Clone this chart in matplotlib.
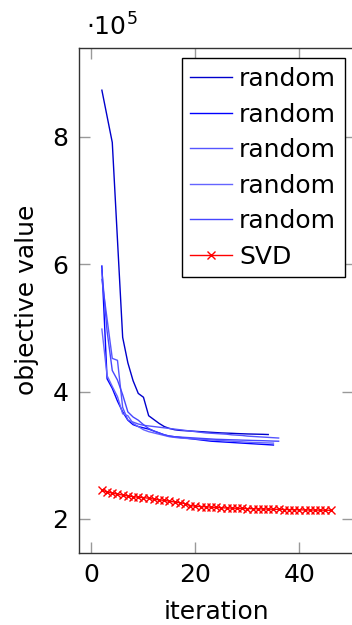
import matplotlib
matplotlib.use("Agg")
import matplotlib.pyplot as plt

# iteration numbers
x_a = list(range(2, 35))
x_b = list(range(2, 36))
x_c = list(range(2, 37))
x_d = list(range(2, 36))
x_e = list(range(2, 37))
x_svd = list(range(2, 47))

# objective values (x 1e5)
rand_a = [8.73, 8.32, 7.91, 6.38, 4.85, 4.45, 4.17, 3.97, 3.91, 3.62, 3.56, 3.50,
          3.45, 3.42, 3.40, 3.39, 3.385, 3.38, 3.375, 3.37, 3.365, 3.36, 3.355,
          3.35, 3.347, 3.344, 3.34, 3.337, 3.334, 3.332, 3.33, 3.328, 3.325]
rand_b = [5.97, 4.20, 4.05, 3.85, 3.68, 3.55, 3.48, 3.45, 3.43, 3.41, 3.38, 3.35,
          3.32, 3.30, 3.29, 3.28, 3.27, 3.26, 3.25, 3.24, 3.23, 3.22, 3.215, 3.21,
          3.205, 3.20, 3.195, 3.19, 3.185, 3.18, 3.175, 3.17, 3.165, 3.16]
rand_c = [5.76, 5.14, 4.52, 4.49, 3.75, 3.55, 3.52, 3.49, 3.47, 3.46, 3.45, 3.44,
          3.43, 3.42, 3.41, 3.40, 3.39, 3.38, 3.37, 3.36, 3.35, 3.345, 3.34, 3.335,
          3.33, 3.32, 3.315, 3.31, 3.30, 3.295, 3.29, 3.285, 3.28, 3.275, 3.27]
rand_d = [4.98, 4.25, 4.08, 3.92, 3.65, 3.62, 3.50, 3.45, 3.40, 3.37, 3.35, 3.33,
          3.31, 3.29, 3.28, 3.27, 3.265, 3.26, 3.255, 3.25, 3.245, 3.24, 3.235,
          3.23, 3.225, 3.22, 3.215, 3.21, 3.205, 3.20, 3.198, 3.195, 3.193, 3.19]
rand_e = [5.90, 4.95, 4.33, 4.18, 3.95, 3.68, 3.60, 3.55, 3.48, 3.42, 3.38, 3.35,
          3.32, 3.30, 3.29, 3.285, 3.28, 3.275, 3.27, 3.265, 3.26, 3.255, 3.25,
          3.248, 3.245, 3.242, 3.24, 3.237, 3.235, 3.232, 3.23, 3.228, 3.225,
          3.222, 3.22]
svd = [2.45, 2.425, 2.405, 2.39, 2.375, 2.36, 2.35, 2.34, 2.335, 2.325, 2.31, 2.30,
       2.29, 2.28, 2.265, 2.255, 2.24, 2.21, 2.20, 2.195, 2.19, 2.185, 2.18, 2.175,
       2.172, 2.17, 2.167, 2.165, 2.162, 2.16, 2.158, 2.156, 2.154, 2.152, 2.15,
       2.148, 2.146, 2.145, 2.143, 2.141, 2.14, 2.139, 2.138, 2.137, 2.135]

random_runs = [(x_a, rand_a, "#0000cc"), (x_b, rand_b, "#0000ff"),
               (x_c, rand_c, "#5555ff"), (x_d, rand_d, "#6464ff"),
               (x_e, rand_e, "#4646ff")]

plt.rcParams["font.family"] = ["DejaVu Sans"]
fs = 18

fig = plt.figure(figsize=(3.52, 6.25), dpi=100)
ax = fig.add_axes([79 / 352, 1 - 552.7 / 625, (353.5 - 79) / 352, (552.7 - 47.5) / 625])

for xs, ys, col in random_runs:
    ax.plot(xs, ys, color=col, lw=1.0, label="random")
ax.plot(x_svd, svd, color="red", lw=1.0, marker="x", markersize=5.5,
        markeredgewidth=1.0, label="SVD")

ax.set_xlim(-2.4, 50.4)
ax.set_ylim(1.47, 9.40)
ax.set_xticks([0, 20, 40])
ax.set_yticks([2, 4, 6, 8])
ax.tick_params(direction="in", length=8, width=1, color="#999999",
               top=True, right=True, labelsize=fs, pad=7.5)
for sp in ax.spines.values():
    sp.set_color("#333333")
    sp.set_linewidth(1.0)

ax.set_xlabel("iteration", fontsize=fs, labelpad=9)
ax.set_ylabel("objective value", fontsize=fs, labelpad=10)
fig.text(112 / 352, 1 - 27 / 625, r"$\cdot 10^{5}$", fontsize=fs,
         ha="center", va="center")

leg = ax.legend(loc="upper left", bbox_to_anchor=(181.7 / 352, 1 - 58.3 / 625),
                bbox_transform=fig.transFigure, fontsize=fs, fancybox=False,
                framealpha=1, edgecolor="black", handlelength=1.65,
                handletextpad=0.3, labelspacing=0.46, borderpad=0.35,
                borderaxespad=0)
leg.get_frame().set_linewidth(1.0)

fig.savefig("out.png", dpi=100)
